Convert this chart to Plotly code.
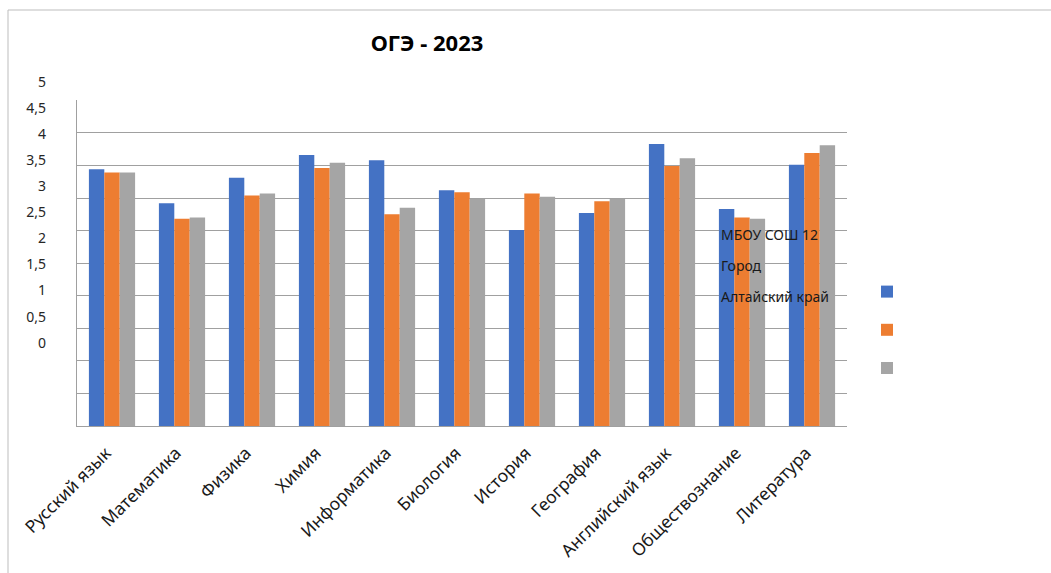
import plotly.graph_objects as go

categories = ["Русский язык", "Математика", "Физика", "Химия", "Информатика",
              "Биология", "История", "География", "Английский язык",
              "Обществознание", "Литература"]
school = [3.94, 3.42, 3.81, 4.16, 4.08, 3.62, 3.01, 3.27, 4.33, 3.33, 4.01]
city = [3.89, 3.18, 3.54, 3.96, 3.25, 3.59, 3.57, 3.45, 3.99, 3.20, 4.19]
region = [3.89, 3.20, 3.57, 4.04, 3.35, 3.49, 3.52, 3.49, 4.11, 3.18, 4.31]
series_names = ["МБОУ СОШ 12", "Город", "Алтайский край"]
colors = ["#4472C4", "#ED7D31", "#A5A5A5"]
ytick_vals = [0, 0.5, 1, 1.5, 2, 2.5, 3, 3.5, 4, 4.5, 5]
ytick_text = ["0", "0,5", "1", "1,5", "2", "2,5", "3", "3,5", "4", "4,5", "5"]

W, H = 1051, 573
L, R, T, B = 77, 204, 70, 147
ph = H - T - B
pw = W - L - R

def py(pix):
    return (H - B - pix) / ph

def px(pix):
    return (pix - L) / pw

FONT = "Noto Sans"
fig = go.Figure()
for i, (vals, name, c) in enumerate(zip([school, city, region], series_names, colors)):
    fig.add_trace(go.Bar(x=categories, y=vals, name="", marker_color=c,
                         marker_line_width=0, legendgroup=str(i),
                         hovertext=name))

# invisible trace for the secondary (label) axis
fig.add_trace(go.Scatter(x=[categories[0]], y=[None], yaxis="y2", showlegend=False,
                         hoverinfo="skip", mode="markers"))

for j, name in enumerate(series_names):
    fig.add_annotation(text=name, x=px(719), y=py(234 + 31 * j), xref="paper", yref="paper",
                       xanchor="left", yanchor="middle", showarrow=False,
                       font=dict(family=FONT, size=14, color="#1a1a1a"))

# chart frame
fig.add_shape(type="line", xref="paper", yref="paper", x0=px(8), x1=px(1051), y0=py(10), y1=py(10),
              line=dict(color="#bdbdbd", width=1))
fig.add_shape(type="line", xref="paper", yref="paper", x0=px(8), x1=px(8), y0=py(10), y1=py(573),
              line=dict(color="#bdbdbd", width=1))

fig.update_layout(
    width=W, height=H,
    margin=dict(l=L, r=R, t=T, b=B, autoexpand=False),
    paper_bgcolor="white", plot_bgcolor="rgba(0,0,0,0)",
    barmode="group", bargap=0.34, bargroupgap=0,
    title=dict(text="<b>ОГЭ - 2023</b>", x=px(427), xref="paper", xanchor="center",
               y=1 - 43 / H, yref="container", yanchor="middle",
               font=dict(family=FONT, size=22, color="black")),
    font=dict(family=FONT, color="#262626"),
    xaxis=dict(range=[-0.5, len(categories) - 0.5], tickangle=-45,
               tickfont=dict(size=17.5, color="#1a1a1a"), showline=True,
               linecolor="#a0a0a0", ticks="", ticklabelstandoff=9, ticklabelshift=-6,
               automargin=False),
    yaxis=dict(range=[0, 5], dtick=0.5, domain=[0, py(100.3)], showticklabels=False,
               showgrid=True, gridcolor="#a0a0a0", gridwidth=1, zeroline=False,
               showline=True, linecolor="#a0a0a0", automargin=False),
    yaxis2=dict(range=[0, 5], domain=[py(342.7), py(81.7)], anchor="free", position=0,
                tickvals=ytick_vals, ticktext=ytick_text, automargin=False,
                showgrid=False, zeroline=False, showline=False, ticks="",
                ticklabelstandoff=31, tickfont=dict(size=14, color="#262626")),
    legend=dict(x=px(867), y=py(276), xanchor="left", yanchor="top", xref="paper", yref="paper",
                traceorder="grouped", tracegroupgap=17, font=dict(size=14),
                bgcolor="rgba(0,0,0,0)"),
    showlegend=True,
)

fig.write_html("out.html", config={"displayModeBar": False},
               post_script="document.body.style.margin='0px';")
